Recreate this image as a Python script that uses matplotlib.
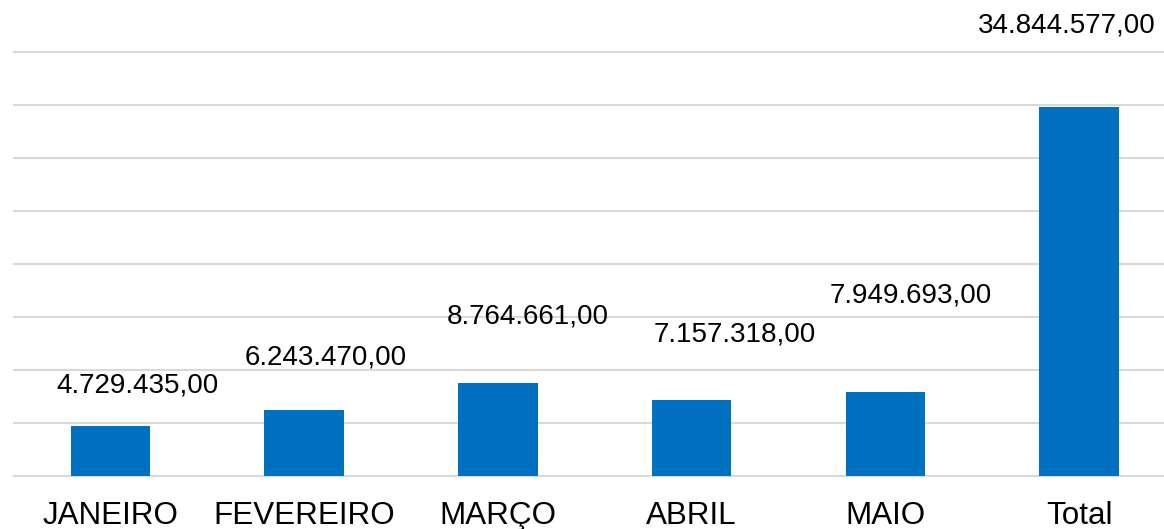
import matplotlib.pyplot as plt
from matplotlib.ticker import MultipleLocator

plt.rcParams["font.family"] = ["Liberation Sans", "DejaVu Sans"]

categories = ["JANEIRO", "FEVEREIRO", "MARÇO", "ABRIL", "MAIO", "Total"]
values = [4729435.00, 6243470.00, 8764661.00, 7157318.00, 7949693.00, 34844577.00]

# label offsets in pixels from the top centre of each bar (hand placed, as in the source)
label_dx = [27, 22, 30, 43, 25, -12]
label_dy = [33, 45, 59, 58, 89, 74]

BAR_COLOR = "#0070C0"
GRID_COLOR = "#D9D9D9"


def fmt_br(v):
    s = f"{v:,.2f}"
    return s.replace(",", "X").replace(".", ",").replace("X", ".")


fig = plt.figure(figsize=(11.64, 5.29), dpi=100)
ax = fig.add_axes([0.0117, 0.1007, 0.9985, 0.8004])

x = range(len(categories))
ax.bar(x, values, width=0.41, color=BAR_COLOR, zorder=3)

ax.set_xlim(-0.5, len(categories) - 0.5)
ax.set_ylim(0, 40_000_000)
ax.yaxis.set_major_locator(MultipleLocator(5_000_000))
ax.grid(axis="y", color=GRID_COLOR, linewidth=1.5, zorder=0)
ax.set_axisbelow(True)
for line in ax.get_ygridlines():
    line.set_clip_on(False)

for side in ["top", "right", "left"]:
    ax.spines[side].set_visible(False)
ax.spines["bottom"].set_color(GRID_COLOR)
ax.spines["bottom"].set_linewidth(1.5)

ax.tick_params(axis="y", left=False, labelleft=False)
ax.set_xticks(list(x))
ax.set_xticklabels(categories, fontsize=22.6)
ax.tick_params(axis="x", length=0, pad=18)

for i, v in enumerate(values):
    ax.annotate(
        fmt_br(v),
        xy=(i, v),
        xytext=(label_dx[i], label_dy[i]),
        textcoords="offset pixels",
        ha="center",
        va="baseline",
        fontsize=20,
        color="black",
        annotation_clip=False,
    )

fig.savefig("out.png", dpi=100)
